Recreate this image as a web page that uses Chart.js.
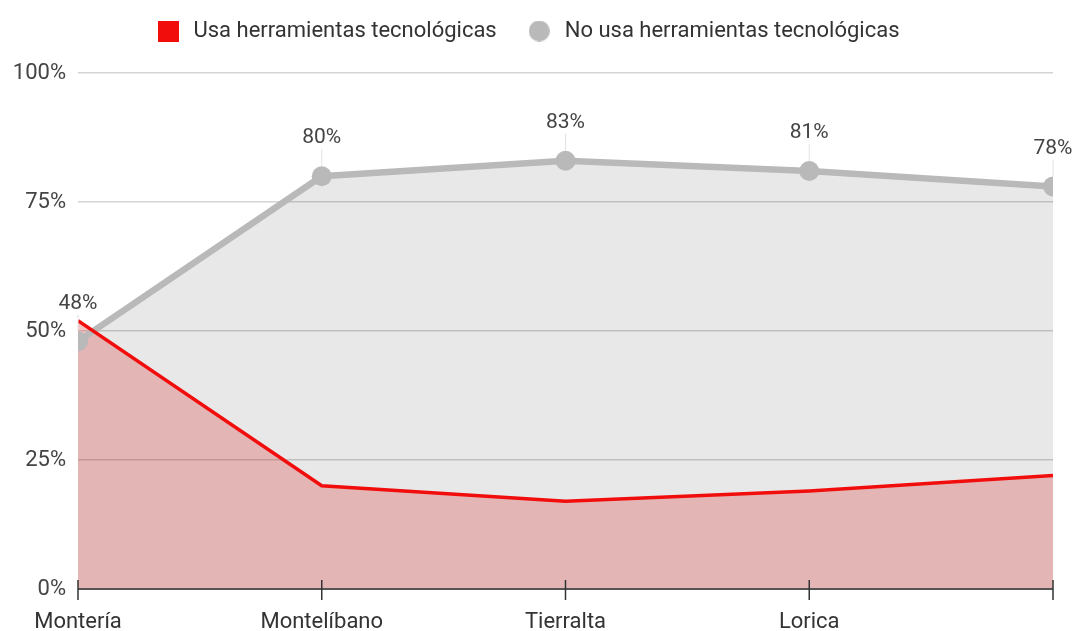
<!DOCTYPE html>
<html>
<head>
<meta charset="utf-8">
<script src="https://cdn.jsdelivr.net/npm/chart.js@4/dist/chart.umd.min.js"></script>
<style>
  body{margin:0;background:#fff;}
  #wrap{width:1077px;height:631px;position:relative;}
</style>
</head>
<body>
<div id="wrap"><canvas id="chart"></canvas></div>
<script>
// DATA
const ciudades = ["Montería","Montelíbano","Tierralta","Lorica",""];
const usaHerramientas = [52,20,17,19,22];
const noUsaHerramientas = [48,80,83,81,78];
const yTicks = [0,25,50,75,100];

const FONT = "Roboto, 'Liberation Sans', sans-serif";

// legend markers
function marker(kind,color){
  let c=document.createElement("canvas");
  c.width=21;c.height=21;
  let x=c.getContext("2d");
  x.fillStyle=color;
  if(kind=="rect"){ x.fillRect(0,0,21,21); }
  else { x.beginPath(); x.arc(10.5,10.5,10.5,0,Math.PI*2); x.fill(); }
  return c;
}
const redBox = marker("rect","#f20d0d");
const grayDot = marker("circle","#b9b9b9");

// legend box height fixed so plot top lands at 73px
const fixLegend = {
  id:"fixLegend",
  beforeInit(chart){
    const orig = chart.legend.fit;
    chart.legend.fit = function(){
      orig.call(this);
      this.height = 81;
    };
  }
};

// x axis line + tick marks across it
const axisTicks = {
  id:"axisTicks",
  afterDatasetsDraw(chart){
    const ctx=chart.ctx, xs=chart.scales.x, area=chart.chartArea;
    ctx.save();
    ctx.strokeStyle="#555";
    ctx.lineWidth=2;
    ctx.beginPath();
    ctx.moveTo(area.left,area.bottom);
    ctx.lineTo(area.right,area.bottom);
    ctx.stroke();
    ctx.strokeStyle="#333";
    ctx.lineWidth=1.5;
    xs.ticks.forEach((t,i)=>{
      let px=xs.getPixelForTick(i);
      ctx.beginPath();
      ctx.moveTo(px,area.bottom-9);
      ctx.lineTo(px,area.bottom+11);
      ctx.stroke();
    });
    ctx.restore();
  }
};

// value labels with thin leader line for gray series
const valueLabels = {
  id:"valueLabels",
  afterDatasetsDraw(chart){
    const ctx=chart.ctx;
    const meta=chart.getDatasetMeta(1);
    ctx.save();
    meta.data.forEach((pt,i)=>{
      ctx.strokeStyle="#e2e2e2";
      ctx.lineWidth=1;
      ctx.beginPath();
      ctx.moveTo(pt.x,pt.y-10);
      ctx.lineTo(pt.x,pt.y-27);
      ctx.stroke();
      ctx.fillStyle="#444";
      ctx.font="21px "+FONT;
      ctx.textAlign="center";
      ctx.textBaseline="middle";
      ctx.fillText(noUsaHerramientas[i]+"%",pt.x,pt.y-38);
    });
    ctx.restore();
  }
};

new Chart(document.getElementById("chart"),{
  type:"line",
  data:{
    labels:ciudades,
    datasets:[
      {
        label:"Usa herramientas tecnológicas",
        data:usaHerramientas,
        borderColor:"#f20d0d",
        backgroundColor:"rgba(215,40,40,0.27)",
        borderWidth:3.5,
        pointRadius:0,
        fill:"origin",
        tension:0,
        clip:0
      },
      {
        label:"No usa herramientas tecnológicas",
        data:noUsaHerramientas,
        borderColor:"#b9b9b9",
        backgroundColor:"rgba(0,0,0,0.09)",
        borderWidth:6.5,
        pointRadius:10,
        pointBorderWidth:0,
        pointBackgroundColor:"#b9b9b9",
        fill:"origin",
        tension:0,
        clip:0
      }
    ]
  },
  options:{
    responsive:true,
    maintainAspectRatio:false,
    animation:false,
    layout:{padding:{top:-8,left:0,right:24,bottom:0}},
    plugins:{
      filler:{drawTime:"beforeDatasetsDraw"},
      tooltip:{enabled:false},
      legend:{
        position:"top",
        labels:{
          usePointStyle:true,
          pointStyleWidth:29,
          padding:28,
          color:"#333",
          font:{family:FONT,size:22},
          generateLabels(chart){
            let items=Chart.defaults.plugins.legend.labels.generateLabels(chart);
            items[0].pointStyle=redBox;
            items[1].pointStyle=grayDot;
            return items;
          }
        }
      }
    },
    scales:{
      x:{
        offset:false,
        grid:{display:false},
        border:{display:false},
        ticks:{color:"#333",padding:12,font:{family:FONT,size:22},maxRotation:0,autoSkip:false},
        afterFit(s){ s.height=42; }
      },
      y:{
        min:0,max:100,
        afterBuildTicks(s){ s.ticks=yTicks.map(v=>({value:v})); },
        grid:{color:"#d4d4d4",lineWidth:1.5,drawTicks:false},
        border:{display:false},
        ticks:{color:"#444",padding:12,font:{family:FONT,size:22},callback:v=>v+"%"},
        afterFit(s){ s.width=78; }
      }
    }
  },
  plugins:[fixLegend,axisTicks,valueLabels]
});
</script>
</body>
</html>
